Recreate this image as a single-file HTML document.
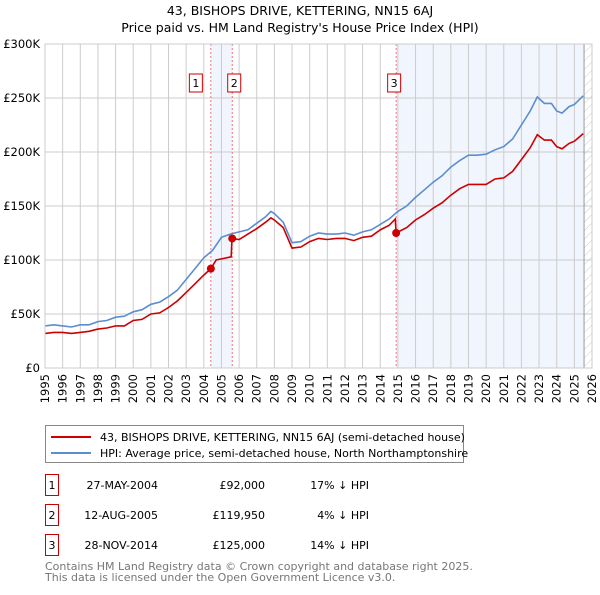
<!DOCTYPE html>
<html><head><meta charset="utf-8"><style>
body{margin:0;background:#fff;font-family:"Liberation Sans","DejaVu Sans",sans-serif;}
svg text{font-family:"DejaVu Sans","Liberation Sans",sans-serif;}
</style></head><body>
<svg id="c" width="600" height="590" xmlns="http://www.w3.org/2000/svg">
<text x="300" y="15" text-anchor="middle" font-size="12.5">43, BISHOPS DRIVE, KETTERING, NN15 6AJ</text>
<text x="300" y="32" text-anchor="middle" font-size="12.5">Price paid vs. HM Land Registry's House Price Index (HPI)</text>
<g id="plot"></g>
<g>
<rect x="45.5" y="425.5" width="418" height="37" fill="#fff" stroke="#888"/>
<line x1="51" y1="437" x2="91" y2="437" stroke="#cc0000" stroke-width="2"/>
<text x="100" y="441" font-size="11">43, BISHOPS DRIVE, KETTERING, NN15 6AJ (semi-detached house)</text>
<line x1="51" y1="453" x2="91" y2="453" stroke="#5b8dd0" stroke-width="2"/>
<text x="100" y="457" font-size="11">HPI: Average price, semi-detached house, North Northamptonshire</text>
</g>
<g id="tbl" font-size="11"></g>
<text x="45" y="570" font-size="11" fill="#777">Contains HM Land Registry data © Crown copyright and database right 2025.</text>
<text x="45" y="581" font-size="11" fill="#777">This data is licensed under the Open Government Licence v3.0.</text>
</svg>
<script>
const hpiYears=[1995,1995.5,1996,1996.5,1997,1997.5,1998,1998.5,1999,1999.5,2000,2000.5,2001,2001.5,2002,2002.5,2003,2003.5,2004,2004.5,2005,2005.5,2006,2006.5,2007,2007.5,2007.8,2008,2008.5,2009,2009.5,2010,2010.5,2011,2011.5,2012,2012.5,2013,2013.5,2014,2014.5,2015,2015.5,2016,2016.5,2017,2017.5,2018,2018.5,2019,2019.5,2020,2020.5,2021,2021.5,2022,2022.5,2022.9,2023.3,2023.7,2024,2024.3,2024.7,2025,2025.5];
const hpiValues=[39,40,39,38,40,40,43,44,47,48,52,54,59,61,66,72,82,92,102,109,121,124,126,128,134,140,145,143,135,116,117,122,125,124,124,125,123,126,128,133,138,145,150,158,165,172,178,186,192,197,197,198,202,205,212,225,238,251,245,245,238,236,242,244,252];
const priceYears=[1995,1995.5,1996,1996.5,1997,1997.5,1998,1998.5,1999,1999.5,2000,2000.5,2001,2001.5,2002,2002.5,2003,2003.5,2004,2004.4,2004.7,2005,2005.55,2005.6,2006,2006.5,2007,2007.5,2007.8,2008,2008.5,2009,2009.5,2010,2010.5,2011,2011.5,2012,2012.5,2013,2013.5,2014,2014.5,2014.85,2014.9,2015.5,2016,2016.5,2017,2017.5,2018,2018.5,2019,2019.5,2020,2020.5,2021,2021.5,2022,2022.5,2022.9,2023.3,2023.7,2024,2024.3,2024.7,2025,2025.5];
const priceValues=[32,33,33,32,33,34,36,37,39,39,44,45,50,51,56,62,70,78,86,92,100,101,103,120,119,124,129,135,139,137,130,111,112,117,120,119,120,120,118,121,122,128,132,138,125,130,137,142,148,153,160,166,170,170,170,175,176,182,193,204,216,211,211,205,203,208,210,217];
const saleYears=[2004.4,2005.61,2014.9];
const saleValues=[92,119.95,125];
const saleLabels=["1","2","3"];
const saleDates=["27-MAY-2004","12-AUG-2005","28-NOV-2014"];
const salePrices=["£92,000","£119,950","£125,000"];
const saleDiffs=["17% ↓ HPI","4% ↓ HPI","14% ↓ HPI"];
const yTicks=[0,50,100,150,200,250,300];
const yTickLabels=["£0","£50K","£100K","£150K","£200K","£250K","£300K"];
const xTicks=[1995,1996,1997,1998,1999,2000,2001,2002,2003,2004,2005,2006,2007,2008,2009,2010,2011,2012,2013,2014,2015,2016,2017,2018,2019,2020,2021,2022,2023,2024,2025,2026];

const L=45,R=592,T=44,B=368,X0=1995,X1=2026,YMAX=300,END=2025.55;
const xs=y=>L+(y-X0)/(X1-X0)*(R-L);
const ys=v=>B-v/YMAX*(B-T);
const NS="http://www.w3.org/2000/svg";
const g=document.getElementById('plot');
function mk(tag,attrs,parent){const e=document.createElementNS(NS,tag);for(const k in attrs)e.setAttribute(k,attrs[k]);(parent||g).appendChild(e);return e;}
let s1=mk('rect',{x:xs(saleYears[0]),y:T,width:xs(saleYears[1])-xs(saleYears[0]),height:B-T,fill:'#eef3fc',opacity:0.8});


let s2=mk('rect',{x:xs(saleYears[2]),y:T,width:xs(END)-xs(saleYears[2]),height:B-T,fill:'#eef3fc',opacity:0.8});


const defs=mk('defs',{});
const pat=mk('pattern',{id:'h',width:6,height:6,patternUnits:'userSpaceOnUse',patternTransform:'rotate(45)'},defs);
mk('line',{x1:0,y1:0,x2:0,y2:6,stroke:'#ccc','stroke-width':1},pat);
let hr=mk('rect',{x:xs(END),y:T,width:R-xs(END),height:B-T,fill:'url(#h)'});


xTicks.forEach(t=>{let l=mk('line',{x1:xs(t),x2:xs(t),y1:T,y2:B,stroke:'#ccc','stroke-width':1});


let tx=mk('text',{x:0,y:0,'font-size':11.5,'text-anchor':'end',transform:`translate(${xs(t)+4},${B+6}) rotate(-90)`});tx.textContent=t;

});
yTicks.forEach((t,i)=>{let l=mk('line',{x1:L,x2:R,y1:ys(t),y2:ys(t),stroke:'#ccc','stroke-width':1});


let tx=mk('text',{x:L-5,y:ys(t)+4,'font-size':11.5,'text-anchor':'end'});tx.textContent=yTickLabels[i];

});
let ev=mk('line',{x1:xs(END),x2:xs(END),y1:T,y2:B,stroke:'#999','stroke-width':1});


saleYears.forEach((y,i)=>{let l=mk('line',{x1:xs(y),x2:xs(y),y1:T,y2:B,stroke:'#e55','stroke-width':0.8,'stroke-dasharray':'2,2'});


let bx=mk('rect',{x:0,y:74,width:13,height:18,fill:'#fff',stroke:'#cc0000'});
bx.setAttribute('x',xs(y)-(i==0?15:(i==1?-2:2))-6.5);


let t=mk('text',{x:+bx.getAttribute('x')+6.5,y:87,'font-size':11,'text-anchor':'middle'});t.textContent=saleLabels[i];

});
function path(xsArr,vArr,color,name){let d=xsArr.map((y,i)=>(i?'L':'M')+xs(y).toFixed(1)+','+ys(vArr[i]).toFixed(1)).join('');
let p=mk('path',{d:d,fill:'none',stroke:color,'stroke-width':1.6});

}
path(hpiYears,hpiValues,'#5b8dd0','hpi-line');
path(priceYears,priceValues,'#cc0000','price-paid-line');
saleYears.forEach((y,i)=>{let c=mk('circle',{cx:xs(y),cy:ys(saleValues[i]),r:4,fill:'#cc0000'});

});
mk('rect',{x:L,y:T,width:R-L,height:B-T,fill:'none',stroke:'#ccc'});
const tb=document.getElementById('tbl');
saleLabels.forEach((lab,i)=>{const y=483+i*30;
let b=mk('rect',{x:45.5,y:y-8.5,width:13,height:21,fill:'#fff',stroke:'#cc0000'},tb);


const cells=[[52,lab,'middle'],[158,saleDates[i],'end'],[265,salePrices[i],'end'],[369,saleDiffs[i],'end']];
cells.forEach(c=>{let t=mk('text',{x:c[0],y:y+6,'text-anchor':c[2]},tb);t.textContent=c[1];

});});
</script>
</body></html>
